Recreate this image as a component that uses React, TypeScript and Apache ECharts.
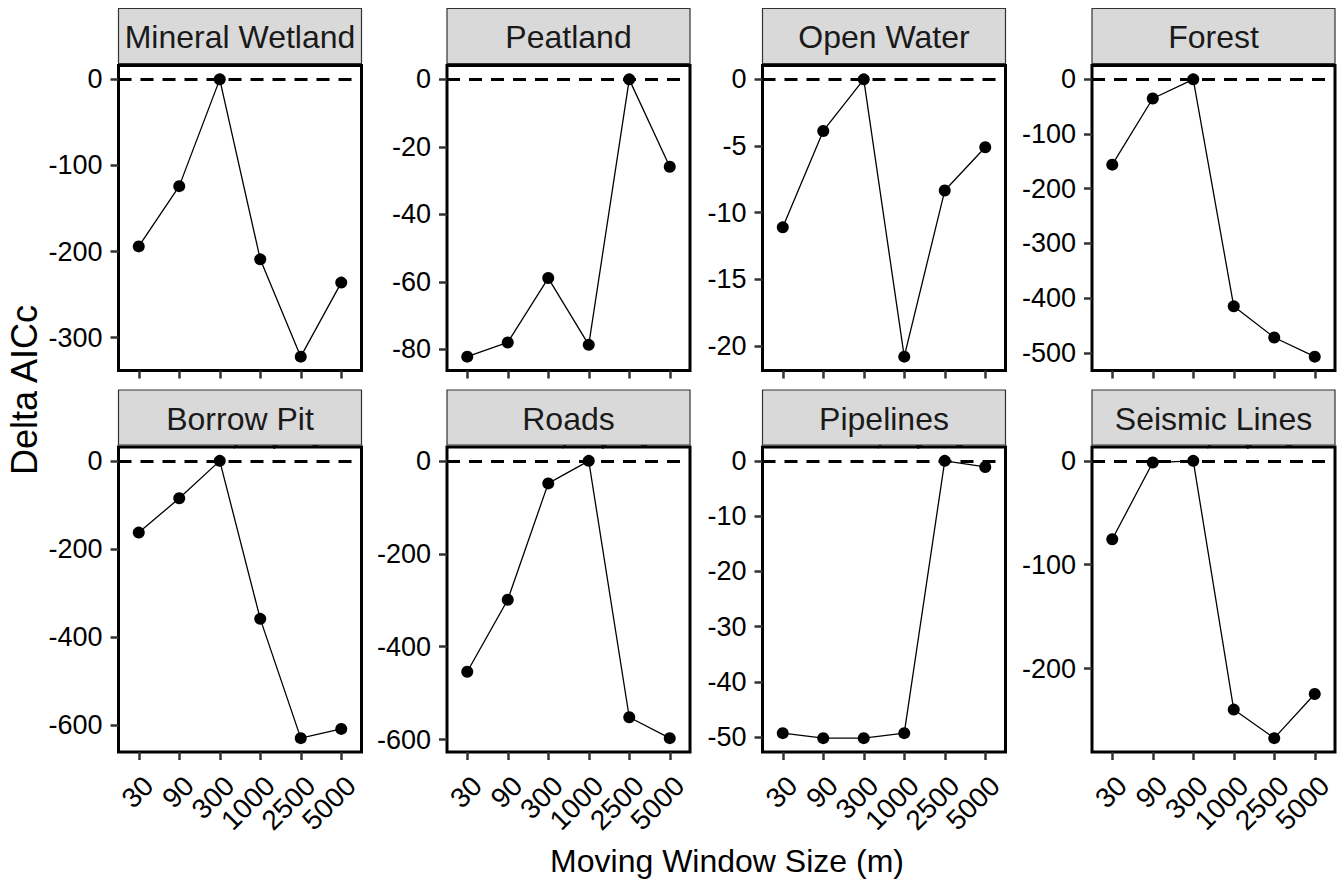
import { useEffect, useRef } from "react";
import * as echarts from "echarts";

// ---- data ----
const windowSizes = ["30", "90", "300", "1000", "2500", "5000"];
const panelNames = [
  "Mineral Wetland",
  "Peatland",
  "Open Water",
  "Forest",
  "Borrow Pit",
  "Roads",
  "Pipelines",
  "Seismic Lines",
];
const mineralWetland = [-194, -124, 0, -209, -322, -236];
const peatland = [-82.2, -78.0, -58.9, -78.7, 0, -25.9];
const openWater = [-11.1, -3.87, 0, -20.8, -8.34, -5.09];
const forest = [-156, -35, 0, -415, -472, -507];
const borrowPit = [-163, -85, 0, -359, -630, -609];
const roads = [-454, -299, -48.5, 0, -552, -597];
const pipelines = [-49.3, -50.2, -50.2, -49.3, 0, -1.1];
const seismicLines = [-75.5, -1.6, 0, -239.5, -267, -224.5];

const mineralWetlandTicks = [0, -100, -200, -300];
const peatlandTicks = [0, -20, -40, -60, -80];
const openWaterTicks = [0, -5, -10, -15, -20];
const forestTicks = [0, -100, -200, -300, -400, -500];
const borrowPitTicks = [0, -200, -400, -600];
const roadsTicks = [0, -200, -400, -600];
const pipelinesTicks = [0, -10, -20, -30, -40, -50];
const seismicLinesTicks = [0, -100, -200];

const panelValues = [mineralWetland, peatland, openWater, forest, borrowPit, roads, pipelines, seismicLines];
const panelTicks = [
  mineralWetlandTicks,
  peatlandTicks,
  openWaterTicks,
  forestTicks,
  borrowPitTicks,
  roadsTicks,
  pipelinesTicks,
  seismicLinesTicks,
];

const xTitle = "Moving Window Size (m)";
const yTitle = "Delta AICc";

// ---- layout ----
const FONT = "'Liberation Sans', Arial, Helvetica, sans-serif";
const colLefts = [118.5, 447, 762.5, 1092];
const panelW = 243;
const rowStripTops = [8.5, 390];
const stripH = 55;
const rowPanelTops = [65.5, 447];
const panelH = 305;
const AXIS_FS = 27;
const XLABEL_FS = 28;

export default function App() {
  const ref = useRef<HTMLDivElement>(null);
  useEffect(() => {
    if (!ref.current) return;
    const chart = echarts.init(ref.current, undefined, { renderer: "svg" });

    const grids: any[] = [];
    const xAxes: any[] = [];
    const yAxes: any[] = [];
    const series: any[] = [];
    const graphics: any[] = [];

    panelNames.forEach((name, i) => {
      const col = i % 4;
      const row = Math.floor(i / 4);
      const left = colLefts[col];
      const top = rowPanelTops[row];
      grids.push({
        left,
        top,
        width: panelW,
        height: panelH,
        show: true,
        borderColor: "#000",
        borderWidth: 3,
        backgroundColor: "#fff",
        containLabel: false,
      });
      xAxes.push({
        type: "category",
        gridIndex: i,
        data: windowSizes,
        boundaryGap: true,
        position: "bottom",
        axisLine: { show: false, onZero: false },
        axisTick: {
          show: true,
          alignWithLabel: true,
          interval: 0,
          length: 8,
          lineStyle: { color: "#333", width: 2.5 },
        },
        axisLabel: {
          show: true,
          interval: 0,
          rotate: 45,
          align: "right",
          verticalAlign: "top",
          margin: 19,
          fontSize: XLABEL_FS,
          color: "#000",
          fontFamily: FONT,
        },
        splitLine: { show: false },
      });
      const vals = panelValues[i];
      const lo = Math.min(...vals);
      const hi = Math.max(...vals);
      const pad = (hi - lo) * 0.05;
      yAxes.push({
        type: "value",
        gridIndex: i,
        min: lo - pad,
        max: hi + pad,
        axisLine: { show: false, onZero: false },
        axisTick: {
          show: true,
          length: 8,
          customValues: panelTicks[i],
          lineStyle: { color: "#333", width: 2.5 },
        },
        axisLabel: {
          show: true,
          customValues: panelTicks[i],
          margin: 16,
          fontSize: AXIS_FS,
          color: "#000",
          fontFamily: FONT,
        },
        splitLine: { show: false },
      });
      series.push({
        type: "line",
        xAxisIndex: i,
        yAxisIndex: i,
        data: vals,
        symbol: "circle",
        symbolSize: 12,
        showAllSymbol: true,
        itemStyle: { color: "#000" },
        lineStyle: { color: "#000", width: 1.3 },
        z: 3,
        markLine: {
          silent: true,
          symbol: "none",
          label: { show: false },
          lineStyle: { color: "#000", width: 3, type: [13, 9] },
          data: [{ yAxis: 0 }],
          z: 2,
        },
      });
      // strip
      graphics.push({
        type: "rect",
        shape: { x: left, y: rowStripTops[row], width: panelW, height: stripH },
        style: { fill: "#D9D9D9", stroke: "#333", lineWidth: 1.2 },
        z: 10,
      });
      graphics.push({
        type: "text",
        x: left + panelW / 2,
        y: rowStripTops[row] + stripH / 2 + 1,
        style: {
          text: name,
          fontSize: 32,
          fontFamily: FONT,
          fill: "#1A1A1A",
          textAlign: "center",
          textVerticalAlign: "middle",
        },
        z: 11,
      });
    });

    graphics.push({
      type: "text",
      x: 727,
      y: 861,
      style: {
        text: xTitle,
        fontSize: 32,
        fontFamily: FONT,
        fill: "#000",
        textAlign: "center",
        textVerticalAlign: "middle",
      },
    });
    graphics.push({
      type: "text",
      x: 24,
      y: 390,
      rotation: Math.PI / 2,
      style: {
        text: yTitle,
        fontSize: 36,
        fontFamily: FONT,
        fill: "#000",
        textAlign: "center",
        textVerticalAlign: "middle",
      },
    });

    chart.setOption({
      animation: false,
      backgroundColor: "#fff",
      grid: grids,
      xAxis: xAxes,
      yAxis: yAxes,
      series,
      graphic: graphics,
    });
    return () => chart.dispose();
  }, []);
  return (
    <div
      ref={ref}
      style={{ position: "fixed", left: 0, top: 0, width: 1341, height: 884 }}
    />
  );
}
